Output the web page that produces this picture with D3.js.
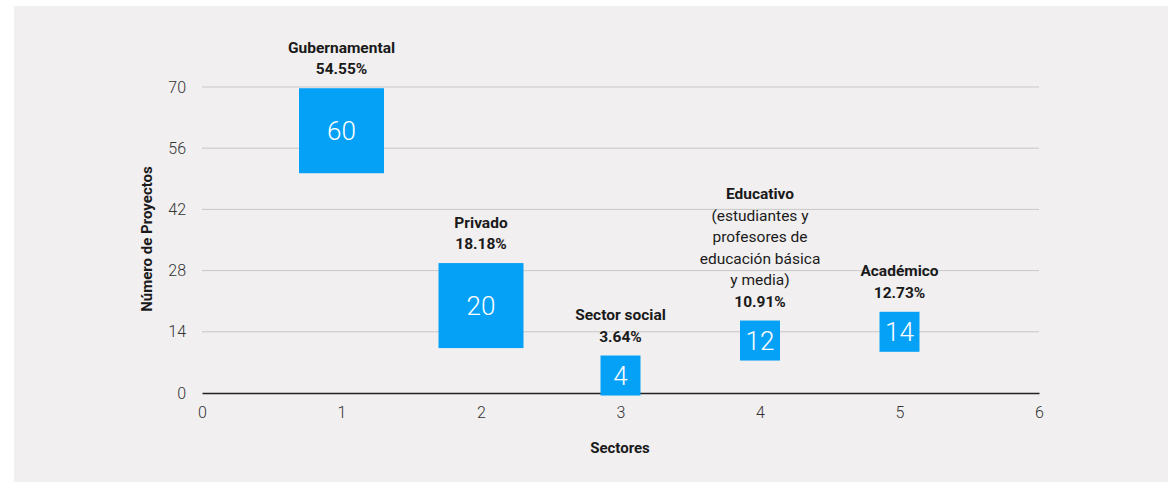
<!DOCTYPE html>
<html><head><meta charset="utf-8">
<script src="https://cdn.jsdelivr.net/npm/d3@7"></script>
<style>
html,body{margin:0;padding:0;background:#fff;}
svg{display:block;}
</style></head>
<body>
<svg id="chart" width="1169" height="482"></svg>
<script>
const sectors = ["Gubernamental","Privado","Sector social","Educativo","Académico"];
const positions = [1,2,3,4,5];
const projects = [60,20,4,12,14];
const descriptions = [[],[],[],["(estudiantes y","profesores de","educación básica","y media)"],[]];
const yTicks = [0,14,28,42,56,70];
const xTicks = [0,1,2,3,4,5,6];
const xTitle = "Sectores";
const yTitle = "Número de Proyectos";

const svg = d3.select("#chart");
svg.append("rect").attr("x",14).attr("y",6).attr("width",1154).attr("height",476).attr("fill","#f1eff0");

const x = d3.scaleLinear().domain([0,6]).range([202,1039]);
const y = d3.scaleLinear().domain([0,70]).range([393,87]);
const size = d3.scaleThreshold().domain([15]).range([40,85]);
const total = d3.sum(projects);
const fmt = d3.format(".2f");
const font = "Roboto, 'DejaVu Sans', sans-serif";

// gridlines
svg.append("g").selectAll("line").data(yTicks.filter(t=>t>0)).join("line")
  .attr("x1",x(0)).attr("x2",x(6)).attr("y1",d=>y(d)).attr("y2",d=>y(d))
  .attr("stroke","#c9c7c8").attr("stroke-width",1);

// y axis labels
const yAxis = d3.axisLeft(y).tickValues(yTicks).tickFormat(d3.format("d")).tickSize(0).tickPadding(16);
const gy = svg.append("g").attr("transform",`translate(${x(0)},0)`).call(yAxis);
gy.select(".domain").remove();
gy.selectAll("text").attr("font-family",font).attr("font-weight",300).attr("font-size",16).attr("fill","#333");

// x axis
const xAxis = d3.axisBottom(x).tickValues(xTicks).tickFormat(d3.format("d")).tickSize(0).tickPadding(14);
const gx = svg.append("g").attr("transform",`translate(0,${y(0)})`).call(xAxis);
gx.select(".domain").attr("stroke","#222").attr("stroke-width",1.3);
gx.selectAll("text").attr("font-family",font).attr("font-weight",300).attr("font-size",16).attr("fill","#333");

// axis titles
svg.append("text").attr("x",620).attr("y",453).attr("text-anchor","middle")
  .attr("font-family",font).attr("font-weight",700).attr("font-size",15).attr("fill","#1a1a1a").text(xTitle);
svg.append("text").attr("transform","translate(152,239) rotate(-90)").attr("text-anchor","middle")
  .attr("font-family",font).attr("font-weight",700).attr("font-size",15).attr("fill","#1a1a1a").text(yTitle);

const data = sectors.map((s,i)=>({name:s,pos:positions[i],val:projects[i],desc:descriptions[i]}));

const g = svg.append("g").selectAll("g").data(data).join("g");
g.append("rect")
  .attr("x",d=>x(d.pos)-size(d.val)/2)
  .attr("y",d=>y(d.val)-size(d.val)/2)
  .attr("width",d=>size(d.val)).attr("height",d=>size(d.val))
  .attr("fill","#05a1f7");
g.append("text")
  .attr("x",d=>x(d.pos)).attr("y",d=>y(d.val)).attr("dy","0.36em")
  .attr("text-anchor","middle").attr("font-family",font).attr("font-weight",300)
  .attr("font-size",26).attr("fill","#fff").text(d=>d.val);

g.each(function(d){
  const top = y(d.val)-size(d.val)/2;
  const lines = [{t:d.name,b:true}].concat(d.desc.map(t=>({t,b:false}))).concat([{t:fmt(d.val/total*100)+"%",b:true}]);
  const n = lines.length;
  const lh = 21.5;
  d3.select(this).selectAll("text.lbl").data(lines).join("text").attr("class","lbl")
    .attr("x",x(d.pos)).attr("y",(l,i)=>top-14-(n-1-i)*lh)
    .attr("text-anchor","middle").attr("font-family",font)
    .attr("font-weight",l=>l.b?700:400).attr("font-size",15.5)
    .attr("fill","#1a1a1a").text(l=>l.t);
});
</script>
</body></html>
